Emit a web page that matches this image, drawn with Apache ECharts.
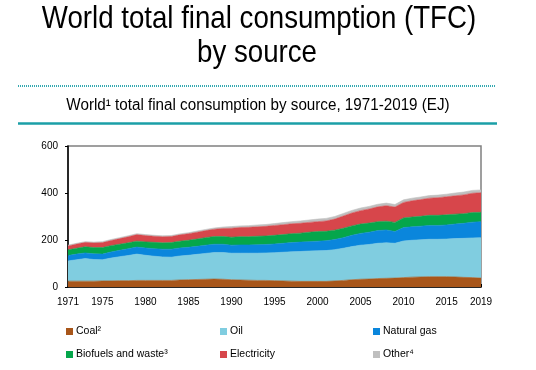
<!DOCTYPE html>
<html>
<head>
<meta charset="utf-8">
<script src="https://cdn.jsdelivr.net/npm/echarts@6/dist/echarts.min.js"></script>
<style>
html,body{margin:0;padding:0;background:#fff;}
#c{width:536px;height:370px;}
</style>
</head>
<body>
<div id="c"></div>
<script>
const years = ['1971','1972','1973','1974','1975','1976','1977','1978','1979','1980',
  '1981','1982','1983','1984','1985','1986','1987','1988','1989','1990',
  '1991','1992','1993','1994','1995','1996','1997','1998','1999','2000',
  '2001','2002','2003','2004','2005','2006','2007','2008','2009','2010',
  '2011','2012','2013','2014','2015','2016','2017','2018','2019'];
const labelYears = ['1971','1975','1980','1985','1990','1995','2000','2005','2010','2015','2019'];
const coal = [25,25,25,25,26,26,27,27,28,28, 28,28,28,30,31,32,33,34,33,31,
  30,29,28,28,27,26,25,24,24,24, 24,26,28,31,33,34,36,37,38,40, 42,43,44,44,44,43,41,40,38];
const oil = [86,91,96,92,90,97,102,107,112,107, 103,100,99,102,104,107,110,113,114,113,
  114,115,116,117,119,122,125,127,129,130, 131,133,137,141,145,147,150,151,148,156, 157,158,159,159,160,163,166,169,172];
const naturalGas = [23,24,24,24,24,26,27,29,30,31, 32,33,34,34,34,34,35,35,35,34,
  35,35,36,36,37,38,39,40,40,41, 42,43,45,48,50,52,54,55,50,57, 57,58,59,59,60,62,64,67,68];
const biofuels = [24,25,26,27,28,27,26,25,25,26, 27,27,28,29,30,31,32,33,33,34,
  35,35,36,36,37,37,38,38,40,41, 40,40,40,40,40,39,38,37,39,41, 42,42,43,43,43,42,41,41,40];
const electricity = [17,18,19,20,21,22,24,26,28,27, 26,26,26,27,28,29,30,31,34,38,
  39,40,40,41,42,42,42,42,42,42, 44,47,52,55,57,60,63,66,65,66, 69,71,73,75,77,78,80,82,83];
const other = [3,3,3,3,4,4,4,4,4,4, 4,4,4,4,4,5,5,5,6,7,
  7,7,8,8,8,9,9,10,10,11, 11,11,11,11,11,11,11,11,11,11, 11,11,11,11,11,12,12,12,12];
const seriesNames = ['Coal\u00b2','Oil','Natural gas','Biofuels and waste\u00b3','Electricity','Other\u2074'];
const seriesColors = ['#a8561a','#80cde0','#0a86dc','#05a64b','#d7464b','#bfbfbf'];
const seriesValues = [coal, oil, naturalGas, biofuels, electricity, other];

const FONT = "'Liberation Sans',Arial,sans-serif";

const chart = echarts.init(document.getElementById('c'), null, {renderer:'canvas'});

const legendPos = [
  {left:66, top:326}, {left:220, top:326}, {left:373, top:326},
  {left:66, top:349}, {left:220, top:349}, {left:373, top:349}
];

function narrowText(text, x, y, size, sx){
  return {type:'text', x:x, y:y, scaleX:sx, scaleY:1,
    style:{text:text, x:0, y:0, textAlign:'center', textVerticalAlign:'middle',
      fontSize:size, fontFamily:FONT, fill:'#000'}};
}

const option = {
  backgroundColor:'#fff',
  animation:false,
  graphic:[
    narrowText('World total final consumption (TFC)', 259, 19, 32, 0.864),
    narrowText('by source', 257, 53, 32, 0.864),
    {type:'line', shape:{x1:18,y1:86,x2:495,y2:86}, style:{stroke:'#33a8b0', lineWidth:2, lineDash:[1,1]}},
    narrowText('World\u00b9 total final consumption by source, 1971-2019 (EJ)', 258, 106, 16, 0.95),
    {type:'line', shape:{x1:18,y1:123.5,x2:497,y2:123.5}, style:{stroke:'#1b9fa7', lineWidth:2.5}}
  ],
  legend: seriesNames.map((n,i)=>({
    data:[{name:n, icon:'rect'}],
    left:legendPos[i].left, top:legendPos[i].top,
    itemWidth:7, itemHeight:7, itemGap:0, selectedMode:false,
    padding:0,
    textStyle:{fontSize:10.5, fontFamily:FONT, color:'#000', padding:[0,0,0,-2]}
  })),
  grid:{left:68, right:55, top:146, bottom:83, show:true, borderColor:'#808080', borderWidth:1.5, containLabel:false},
  xAxis:{
    type:'category', data:years, boundaryGap:false,
    axisLine:{lineStyle:{color:'#000', width:1.5}},
    axisTick:{show:true, interval:0, inside:true, length:3, lineStyle:{color:'#000', width:1}},
    axisLabel:{interval:(idx,val)=>labelYears.includes(val), fontSize:10, fontFamily:FONT, color:'#000', margin:10},
    splitLine:{show:false}
  },
  yAxis:{
    type:'value', min:0, max:600, interval:200,
    axisLine:{show:true, lineStyle:{color:'#000', width:1.5}},
    axisTick:{show:true, length:3, lineStyle:{color:'#000'}},
    axisLabel:{fontSize:10, fontFamily:FONT, color:'#000', margin:10},
    splitLine:{show:false}
  },
  series: seriesNames.map((n,i)=>({
    name:n, type:'line', stack:'total', data:seriesValues[i],
    symbol:'none', smooth:false,
    itemStyle:{color:seriesColors[i]},
    lineStyle:{width:0.6, color:seriesColors[i]},
    areaStyle:{color:seriesColors[i], opacity:1}
  }))
};
chart.setOption(option);
</script>
</body>
</html>
